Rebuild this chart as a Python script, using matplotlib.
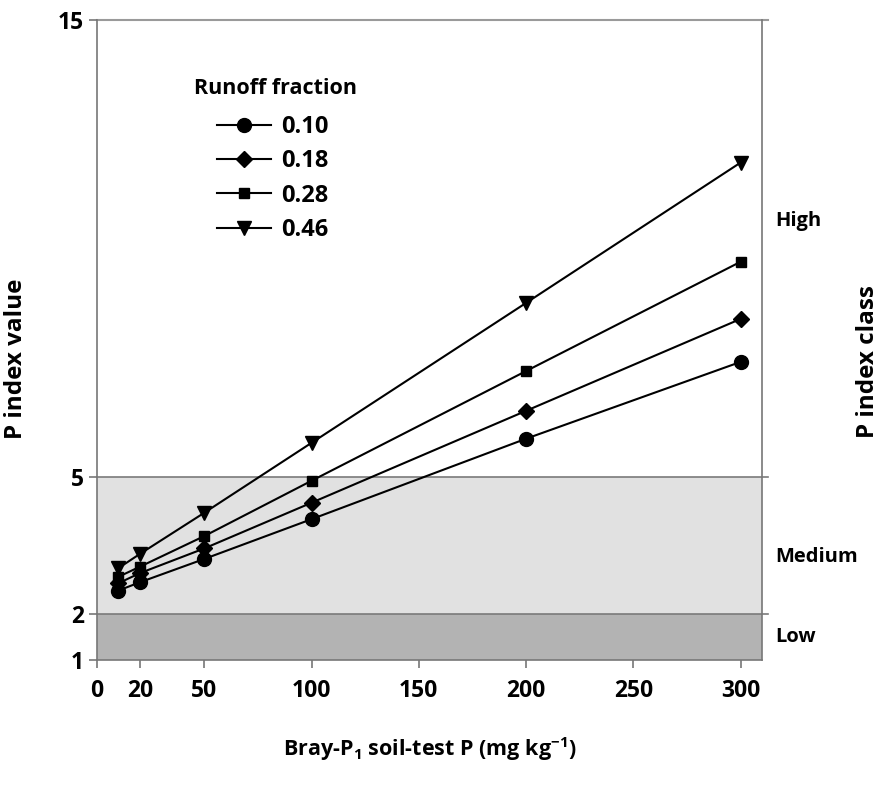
import numpy as np
import matplotlib.pyplot as plt

plt.rcParams['font.family'] = ['Open Sans', 'DejaVu Sans']
plt.rcParams['font.weight'] = 'bold'

# soil-test P (mg/kg)
soil_p = [10, 20, 50, 100, 200, 300]

# P index values for each runoff fraction
runoff = ['0.10', '0.18', '0.28', '0.46']
p_010 = [2.52, 2.70, 3.21, 4.08, 5.84, 7.52]
p_018 = [2.68, 2.90, 3.44, 4.44, 6.45, 8.46]
p_028 = [2.82, 3.04, 3.71, 4.92, 7.32, 9.71]
p_046 = [3.01, 3.32, 4.22, 5.75, 8.81, 11.88]
series = [p_010, p_018, p_028, p_046]
markers = ['o', 'D', 's', 'v']
msizes = [10, 8, 7.5, 10]

xticks = [0, 20, 50, 100, 150, 200, 250, 300]
yticks = [1, 2, 5, 15]
classes = ['Low', 'Medium', 'High']

fig = plt.figure(figsize=(8.84, 7.86), dpi=100)
ax = fig.add_axes([0.1097, 0.1603, 0.7523, 0.8143])

# P index class bands
ax.axhspan(1, 2, color='#b3b3b3', zorder=0, lw=0)
ax.axhspan(2, 5, color='#e1e1e1', zorder=0, lw=0)
for yv in [2, 5]:
    ax.plot([0, 313], [yv, yv], color='#7a7a7a', lw=1.2, clip_on=False, zorder=1)
ax.plot([0, 313], [15, 15], color='#9a9a9a', lw=1.5, clip_on=False, zorder=1)

for vals, m, ms, lab in zip(series, markers, msizes, runoff):
    ax.plot(soil_p, vals, color='black', lw=1.5, marker=m, markersize=ms,
            label=lab, zorder=3)

ax.set_xlim(0, 310)
ax.set_ylim(1, 15)
ax.set_xticks(xticks)
ax.set_yticks(yticks)
ax.tick_params(labelsize=16.5, length=6, color='#777777', width=1.2)
ax.tick_params(axis='x', pad=8)
for s in ['left', 'bottom', 'right']:
    ax.spines[s].set_color('#777777')
    ax.spines[s].set_linewidth(1.2)
ax.spines['top'].set_visible(False)

ax.set_ylabel('P index value', fontsize=17.5, fontweight='bold')
ax.yaxis.set_label_coords(-0.103, 0.47)
ax.set_xlabel(r'Bray-P$_\mathregular{1}$ soil-test P (mg kg$^\mathregular{-1}$)',
              fontsize=15.5, fontweight='bold')
ax.xaxis.set_label_coords(0.5, -0.117)

class_y = [1.5, 3.25, 10.6]
for c, yv in zip(classes, class_y):
    ax.text(1.02, (yv - 1) / 14, c, transform=ax.transAxes, fontsize=14.5,
            fontweight='bold', va='center', ha='left')
fig.text(0.982, 0.54, 'P index class', rotation=90, fontsize=17.5,
         fontweight='bold', va='center', ha='center')

ax.text(0.269, 0.893, 'Runoff fraction', transform=ax.transAxes,
        fontsize=15.5, fontweight='bold', ha='center', va='center')
leg = ax.legend(frameon=False, loc='upper left',
                bbox_to_anchor=(0.180, 0.851), borderaxespad=0, borderpad=0,
                fontsize=17, handlelength=2.3, labelspacing=0.43,
                handletextpad=0.45)

fig.savefig('out.png', dpi=100)
